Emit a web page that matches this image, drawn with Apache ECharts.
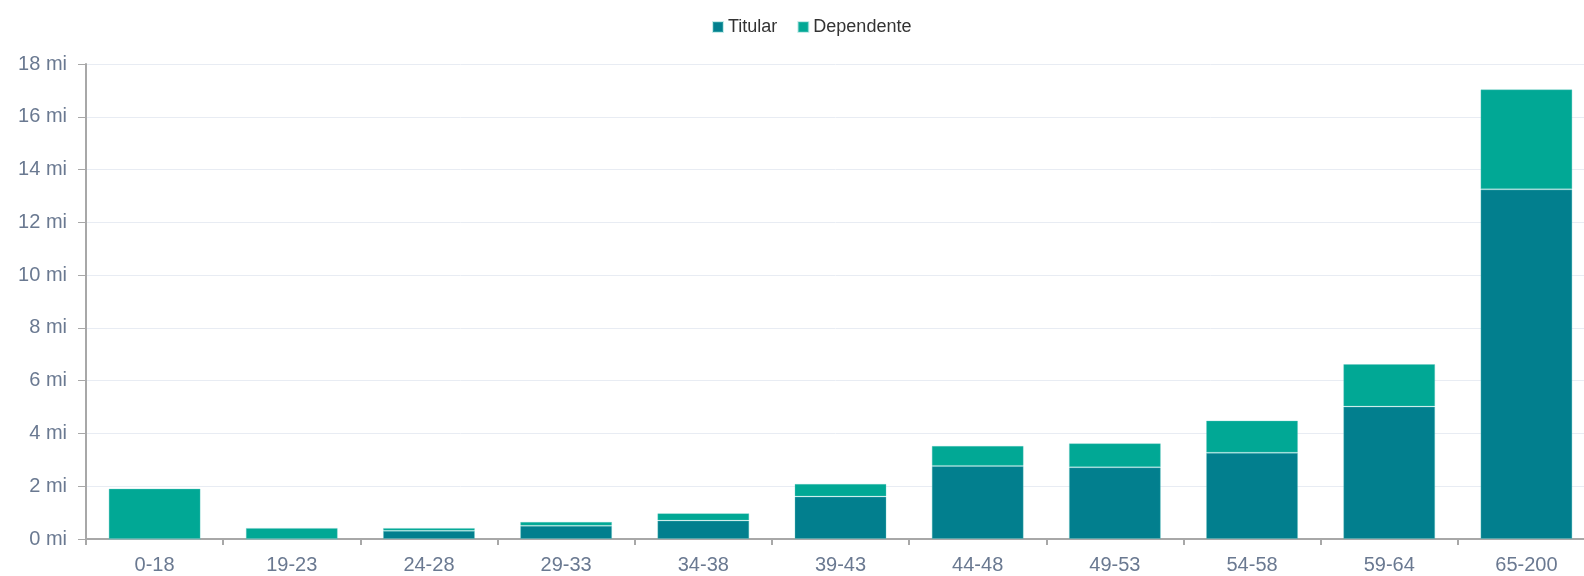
<!DOCTYPE html>
<html>
<head>
<meta charset="utf-8">
<script src="https://cdn.jsdelivr.net/npm/echarts@6/dist/echarts.min.js"></script>
<style>
  html, body { margin: 0; padding: 0; background: #fff; }
  #main { width: 1584px; height: 576px; }
</style>
</head>
<body>
<div id="main"></div>
<script>
// faixas etárias
var categories = ['0-18', '19-23', '24-28', '29-33', '34-38', '39-43', '44-48', '49-53', '54-58', '59-64', '65-200'];
// valores em milhões
var titular = [0, 0, 0.31, 0.50, 0.70, 1.61, 2.77, 2.72, 3.27, 5.02, 13.25];
var dependente = [1.91, 0.42, 0.11, 0.15, 0.28, 0.48, 0.76, 0.91, 1.22, 1.61, 3.79];
var yTicks = [0, 2, 4, 6, 8, 10, 12, 14, 16, 18];

var chart = echarts.init(document.getElementById('main'));

var option = {
  animation: false,
  textStyle: { fontFamily: 'Liberation Sans, Arial, sans-serif' },
  legend: {
    top: 13,
    left: 707,
    itemWidth: 10,
    itemHeight: 10,
    itemGap: 20,
    icon: 'rect',
    textStyle: { fontSize: 18, color: '#333' },
    data: ['Titular', 'Dependente']
  },
  grid: { left: 86, width: 1509, top: 64, bottom: 37, containLabel: false, outerBoundsMode: 'none' },
  xAxis: {
    type: 'category',
    data: categories,
    axisLine: { lineStyle: { color: '#a8a8a8', width: 2 } },
    axisTick: { show: true, length: 6, lineStyle: { color: '#a8a8a8', width: 2 } },
    axisLabel: { color: '#6a7991', fontSize: 20, margin: 16 }
  },
  yAxis: {
    type: 'value',
    min: yTicks[0],
    max: yTicks[yTicks.length - 1],
    interval: 2,
    axisLine: { show: true, lineStyle: { color: '#a8a8a8', width: 2 } },
    axisTick: { show: true, length: 8, lineStyle: { color: '#a8a8a8', width: 1 } },
    axisLabel: {
      color: '#6a7991', fontSize: 20, margin: 19,
      formatter: function (v) { return v + ' mi'; }
    },
    splitLine: { lineStyle: { color: '#e8ecf3', width: 1 } }
  },
  series: [
    {
      name: 'Titular',
      type: 'bar',
      stack: 'total',
      barWidth: 92,
      data: titular,
      itemStyle: { color: '#027f8e', borderColor: 'rgba(100,200,195,0.35)', borderWidth: 1 }
    },
    {
      name: 'Dependente',
      type: 'bar',
      stack: 'total',
      barWidth: 92,
      data: dependente,
      itemStyle: { color: '#01a895', borderColor: 'rgba(100,200,195,0.35)', borderWidth: 1 }
    }
  ]
};

chart.setOption(option);
</script>
</body>
</html>
